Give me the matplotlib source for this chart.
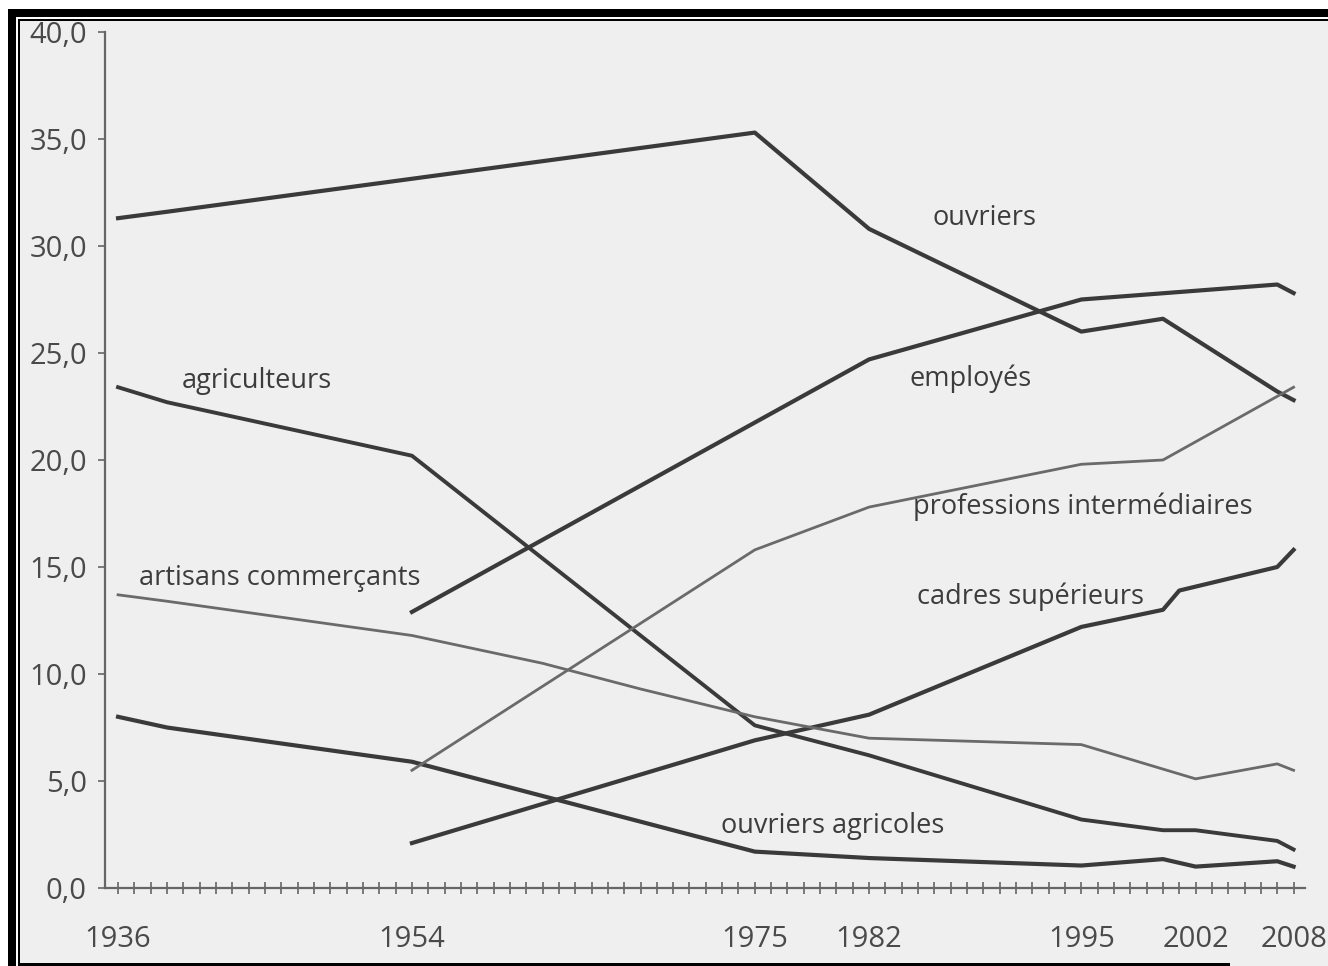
import matplotlib.pyplot as plt
from matplotlib.patches import Rectangle
from matplotlib.ticker import MultipleLocator

plt.rcParams['font.family'] = ['Open Sans', 'DejaVu Sans']

# Données (en % de la population active)
ouvriers_years = [1936, 1939, 1975, 1982, 1995, 2000, 2007, 2008]
ouvriers = [31.3, 31.6, 35.3, 30.8, 26.0, 26.6, 23.2, 22.8]

employes_years = [1954, 1982, 1995, 2007, 2008]
employes = [12.9, 24.7, 27.5, 28.2, 27.8]

agriculteurs_years = [1936, 1939, 1954, 1975, 1982, 1995, 2000, 2002, 2007, 2008]
agriculteurs = [23.4, 22.7, 20.2, 7.6, 6.2, 3.2, 2.7, 2.7, 2.2, 1.8]

artisans_years = [1936, 1939, 1954, 1962, 1968, 1975, 1982, 1995, 2002, 2007, 2008]
artisans = [13.7, 13.4, 11.8, 10.5, 9.3, 8.0, 7.0, 6.7, 5.1, 5.8, 5.5]

ouv_agri_years = [1936, 1939, 1954, 1975, 1982, 1995, 2000, 2002, 2007, 2008]
ouv_agri = [8.0, 7.5, 5.9, 1.7, 1.4, 1.05, 1.35, 1.0, 1.25, 1.0]

prof_int_years = [1954, 1975, 1982, 1995, 2000, 2008]
prof_int = [5.5, 15.8, 17.8, 19.8, 20.0, 23.4]

cadres_years = [1954, 1975, 1982, 1995, 2000, 2001, 2007, 2008]
cadres = [2.1, 6.9, 8.1, 12.2, 13.0, 13.9, 15.0, 15.8]

year_ticks = [1936, 1954, 1975, 1982, 1995, 2002, 2008]
y_ticks = [0, 5, 10, 15, 20, 25, 30, 35, 40]

W, H = 1328, 966
bg = '#efefef'
dark = '#3a3a3a'
light = '#6a6a6a'

fig = plt.figure(figsize=(W / 100, H / 100), dpi=100, facecolor=bg)
ax = fig.add_axes([105 / W, 1 - 888 / H, 1200 / W, 856 / H], facecolor=bg)

ax.plot(ouvriers_years, ouvriers, color=dark, lw=3)
ax.plot(employes_years, employes, color=dark, lw=3)
ax.plot(agriculteurs_years, agriculteurs, color=dark, lw=2.8)
ax.plot(ouv_agri_years, ouv_agri, color=dark, lw=3)
ax.plot(cadres_years, cadres, color=dark, lw=3)
ax.plot(artisans_years, artisans, color=light, lw=2)
ax.plot(prof_int_years, prof_int, color=light, lw=2)

# étiquettes des séries
labels = [
    ('ouvriers', 1989.1, 31.3),
    ('agriculteurs', 1944.5, 23.7),
    ('employés', 1988.2, 23.8),
    ('professions intermédiaires', 1995.1, 17.8),
    ('artisans commerçants', 1945.9, 14.5),
    ('cadres supérieurs', 1991.9, 13.6),
    ('ouvriers agricoles', 1979.8, 2.9),
]
for txt, x, y in labels:
    ax.text(x, y, txt, ha='center', va='center', fontsize=19.5, color='#3c3c3c')

ax.set_xlim(1935.2, 2008.7)
ax.set_ylim(0, 40)
ax.set_xticks(year_ticks)
ax.set_xticklabels([str(y) for y in year_ticks])
ax.xaxis.set_minor_locator(MultipleLocator(1))
ax.set_yticks(y_ticks)
ax.set_yticklabels([f'{v:.1f}'.replace('.', ',') for v in y_ticks])

for s in ['top', 'right']:
    ax.spines[s].set_visible(False)
for s in ['left', 'bottom']:
    ax.spines[s].set_color('#666666')
    ax.spines[s].set_linewidth(1.6)

ax.tick_params(axis='x', which='both', direction='inout', length=9, width=1.2,
               color='#666666', labelsize=21, labelcolor='#4a4a4a', pad=22)
ax.tick_params(axis='y', direction='out', length=5, width=1.2,
               color='#666666', labelsize=21, labelcolor='#4a4a4a', pad=8)


# cadre noir du scan
def frame_rect(x0, y0, x1, y1, color):
    fig.add_artist(Rectangle((x0 / W, 1 - y1 / H), (x1 - x0) / W, (y1 - y0) / H,
                             transform=fig.transFigure, color=color, lw=0, zorder=10))


frame_rect(0, 0, W, 9, 'white')
frame_rect(0, 0, 8, H, 'white')
frame_rect(8, 9, W, 17, 'black')
frame_rect(8, 9, 16, H, 'black')
frame_rect(16, 17, W, 19, 'white')
frame_rect(16, 17, 18, H, 'white')
frame_rect(18, 19, W, 21, 'black')
frame_rect(18, 19, 20, H, 'black')
frame_rect(18, 963, 1230, H, 'black')

fig.savefig('out.png', dpi=100, facecolor=bg)
